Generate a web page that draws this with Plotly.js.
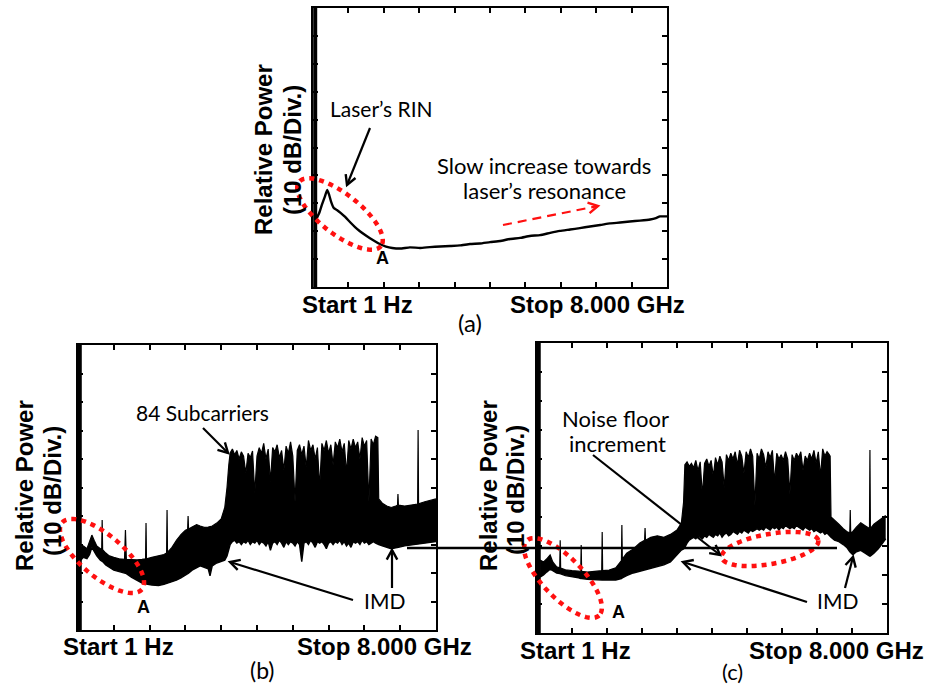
<!DOCTYPE html>
<html><head><meta charset="utf-8">
<script src="https://cdn.plot.ly/plotly-3.0.1.min.js"></script>
<style>html,body{margin:0;padding:0;background:#fff}#chart{width:931px;height:687px}</style>
</head><body><div id="chart"></div>
<script>
// ---------- DATA (frequency in GHz, relative power in dB above screen bottom; 10 dB/div) ----------
// Panel (a): laser RIN only
const aFreq = [0.08,0.14,0.20,0.27,0.32,0.36,0.41,0.47,0.54,0.63,0.72,0.84,0.95,1.06,1.22,1.38,1.51,1.65,1.79,1.97,2.19,2.42,2.64,2.87,3.10,3.32,3.55,3.77,4.00,4.23,4.45,4.68,4.90,5.13,5.36,5.58,5.81,6.03,6.26,6.49,6.71,6.94,7.16,7.39,7.62,7.75,7.84,8.00];
const aPow  = [24.5,26.5,29.4,32.5,34.8,33.3,30.5,28.3,27.6,26.5,25.2,23.2,21.5,20.0,18.2,16.6,15.4,14.5,14.0,13.8,14.2,14.0,14.3,14.5,14.7,14.9,15.4,15.6,16.1,16.5,17.2,17.6,18.3,18.6,19.4,20.1,20.6,21.1,21.7,22.2,22.8,23.1,23.5,23.8,24.2,24.7,25.3,25.3];
const aDC = 0.05;

// Panel (b): 84 subcarriers, envelope of the trace (upper / lower)
const bFreq = [0.06,0.12,0.20,0.26,0.31,0.36,0.42,0.50,0.53,0.54,0.55,0.62,0.70,0.80,0.92,1.04,1.06,1.08,1.20,1.32,1.43,1.51,1.52,1.53,1.65,1.80,1.92,1.98,1.99,2.00,2.10,2.20,2.30,2.40,2.45,2.46,2.47,2.55,2.65,2.73,2.82,2.91,2.95,3.00,3.10,3.20,3.28,3.33,3.37,3.40,
  3.45,3.50,3.55,3.60,3.65,3.70,3.75,3.80,3.85,3.90,3.95,4.00,4.05,4.10,4.15,4.20,4.25,4.30,4.35,4.40,4.45,4.50,4.55,4.60,4.65,4.70,4.75,4.80,4.85,4.90,4.95,5.00,5.05,5.10,5.15,5.20,5.25,5.30,5.35,5.40,5.45,5.50,5.55,5.60,5.65,5.70,5.75,5.80,5.85,5.90,5.95,6.00,6.05,6.10,6.15,6.20,6.25,6.30,6.35,6.40,6.45,6.50,6.55,6.60,6.65,6.70,
  6.72,6.80,6.90,7.00,7.10,7.14,7.15,7.16,7.30,7.45,7.59,7.60,7.61,7.75,7.90,8.00];
const bUpper = [29.0,29.5,28.5,31.0,33.3,31.5,29.5,28.5,28.5,38.6,28.2,27.0,26.0,25.5,25.0,24.8,35.1,24.8,24.6,24.6,24.8,25.0,37.5,25.0,25.5,26.0,26.5,27.0,42.1,27.2,29.0,31.5,33.5,35.0,35.3,40.0,35.4,36.1,37.0,36.5,36.0,36.1,36.3,36.5,37.5,39.0,43.0,50.0,58.0,62.1,
  63.5,61.5,63.0,60.0,62.5,61.0,55.0,62.0,60.5,62.8,48.0,61.0,64.0,62.0,65.5,60.0,63.5,52.0,64.0,62.5,65.0,60.5,63.0,56.0,64.5,62.0,66.0,61.0,45.0,63.0,65.0,61.5,64.5,57.0,66.5,63.0,65.0,60.0,64.0,50.0,65.5,63.0,66.5,62.0,65.0,58.0,66.0,64.0,67.0,62.5,65.5,55.0,66.5,63.5,67.0,64.0,66.0,60.0,67.5,64.5,66.5,45.0,67.0,65.0,68.0,67.5,
  46.0,44.5,43.5,43.0,43.5,43.8,47.7,43.8,43.5,44.0,44.2,70.2,44.3,45.0,45.5,46.0];
const bLower = [24.5,25.5,25.0,26.5,29.0,27.5,26.0,24.5,24.3,24.2,24.0,22.8,22.0,21.0,20.5,20.0,19.9,19.8,18.5,17.5,16.5,16.3,16.2,16.1,15.8,15.6,16.0,16.3,16.4,16.5,17.0,17.5,18.3,19.2,19.6,19.8,19.9,21.0,22.0,22.5,22.0,21.5,19.0,22.5,23.5,24.0,24.5,26.0,28.0,30.0,
  31.0,31.5,30.5,31.0,30.0,31.0,30.5,31.5,30.0,31.0,30.5,31.5,30.0,31.0,30.5,29.5,31.0,28.0,30.5,31.0,30.0,31.5,30.5,29.0,31.0,30.0,31.0,30.5,29.5,31.0,30.0,24.0,30.5,31.0,30.0,31.5,30.5,29.0,31.0,30.5,31.0,30.0,28.5,30.5,31.0,30.0,31.0,30.5,31.5,30.0,31.0,29.5,30.5,29.0,31.0,30.5,31.0,30.0,31.5,30.5,31.0,30.0,30.5,31.0,30.5,30.0,
  30.0,29.5,29.0,28.5,28.8,29.0,29.0,29.0,29.5,29.8,30.0,30.0,30.0,30.5,30.8,31.0];
const bDC = 0.04;

// Panel (c): 84 subcarriers, raised noise floor
const cFreq = [0.07,0.15,0.22,0.30,0.36,0.45,0.52,0.53,0.54,0.65,0.80,0.95,1.00,1.01,1.02,1.15,1.30,1.48,1.49,1.50,1.65,1.80,1.93,1.94,1.95,2.05,2.20,2.35,2.46,2.47,2.48,2.60,2.75,2.90,3.05,3.20,3.30,3.35,3.38,
  3.43,3.48,3.53,3.58,3.63,3.68,3.73,3.78,3.83,3.88,3.93,3.98,4.03,4.08,4.13,4.18,4.23,4.28,4.33,4.38,4.43,4.48,4.53,4.58,4.63,4.68,4.73,4.78,4.83,4.88,4.93,4.98,5.03,5.08,5.13,5.18,5.23,5.28,5.33,5.38,5.43,5.48,5.53,5.58,5.63,5.68,5.73,5.78,5.83,5.88,5.93,5.98,6.03,6.08,6.13,6.18,6.23,6.28,6.33,6.38,6.43,6.48,6.53,6.58,6.63,6.68,6.70,
  6.72,6.80,6.90,7.00,7.08,7.15,7.16,7.17,7.22,7.30,7.40,7.50,7.58,7.60,7.61,7.62,7.70,7.80,7.90,7.97];
const cUpper = [25.2,24.5,25.5,26.9,24.5,22.8,22.5,32.0,22.4,21.8,21.5,21.2,21.3,30.3,21.3,21.0,21.2,21.5,34.8,21.5,21.7,22.5,25.0,37.2,25.5,27.5,29.0,31.0,32.0,36.2,32.0,33.0,33.5,33.0,34.0,35.5,37.9,45.0,58.0,
  59.0,57.5,58.5,57.0,59.5,56.0,59.0,47.5,58.5,60.0,57.5,59.5,54.0,60.5,58.0,61.0,59.0,50.0,61.5,59.5,62.0,60.0,62.5,58.0,63.0,61.0,55.0,62.5,60.5,63.5,61.0,44.0,62.0,60.0,63.5,61.5,57.0,62.5,60.5,63.0,52.0,62.0,60.0,61.5,59.5,62.5,60.0,48.0,61.5,59.5,62.0,60.5,62.5,56.0,61.0,59.5,62.0,60.0,63.0,58.5,62.5,54.0,63.5,61.0,62.5,61.5,61.0,
  40.0,39.0,37.5,36.0,35.0,34.5,42.4,34.5,35.0,36.5,38.0,37.0,36.0,36.0,63.1,36.0,37.5,38.5,39.5,40.5];
const cLower = [19.3,20.0,21.0,22.0,21.5,20.7,20.5,20.5,20.4,19.8,19.5,19.0,18.8,18.8,18.8,18.5,18.3,18.3,18.3,18.3,18.2,18.3,18.8,19.0,19.0,19.8,20.7,21.3,21.7,21.7,21.8,22.3,22.8,23.5,24.5,27.0,28.6,29.0,29.5,
  31.0,32.0,32.5,33.0,32.5,33.5,33.0,32.5,33.5,33.0,34.0,33.5,33.0,34.0,33.5,34.5,33.0,34.0,34.5,33.5,34.0,35.0,34.5,34.0,35.0,34.5,35.5,35.0,34.5,35.5,35.0,35.5,36.0,35.5,36.0,35.5,36.5,36.0,35.5,36.5,36.0,36.5,35.5,36.5,36.0,37.0,36.5,36.0,36.5,36.0,37.0,36.5,36.0,35.5,36.5,36.0,35.5,36.0,35.0,35.5,35.0,34.5,35.0,34.0,34.5,33.5,33.0,
  33.0,32.0,31.5,30.5,29.5,28.0,27.8,27.6,27.0,28.0,28.5,27.5,26.5,26.5,26.5,26.5,27.5,29.0,31.0,32.5];
const cDC = 0.04;

// ---------- LAYOUT HELPERS ----------
const W = 931, H = 687;
const px = x => x / W, py = y => 1 - y / H;
const LBL = 'Arial, "Liberation Sans", sans-serif';
const TXT = 'Lato, "Open Sans", sans-serif';

function xa(l, r) { return {domain:[px(l), px(r)], range:[0,8], dtick:0.8, tick0:0, showgrid:false, zeroline:false, showticklabels:false,
  ticks:'inside', ticklen:5, tickwidth:2, tickcolor:'#000', showline:true, linecolor:'#000', linewidth:2, mirror:'ticks', fixedrange:true}; }
function ya(t, b) { return {domain:[py(b), py(t)], range:[0,100], dtick:10, tick0:0, showgrid:false, zeroline:false, showticklabels:false,
  ticks:'inside', ticklen:5, tickwidth:2, tickcolor:'#000', showline:true, linecolor:'#000', linewidth:2, mirror:'ticks', fixedrange:true}; }

const traces = [];
function dcLine(x, xr, yr) { traces.push({x:[x,x], y:[0,100], xaxis:xr, yaxis:yr, mode:'lines', line:{color:'#000', width:4}, hoverinfo:'skip', cliponaxis:false}); }
function band(f, lo, hi, xr, yr) {
  traces.push({x:f, y:lo, xaxis:xr, yaxis:yr, mode:'lines', line:{color:'#000', width:1.4}, hoverinfo:'skip'});
  traces.push({x:f, y:hi, xaxis:xr, yaxis:yr, mode:'lines', line:{color:'#000', width:1.2}, fill:'tonexty', fillcolor:'#000', hoverinfo:'skip'});
}
dcLine(aDC, 'x', 'y');
traces.push({x:aFreq, y:aPow, xaxis:'x', yaxis:'y', mode:'lines', line:{color:'#000', width:2.4, shape:'spline', smoothing:0.4}, hoverinfo:'skip'});
dcLine(bDC, 'x2', 'y2');
band(bFreq, bLower, bUpper, 'x2', 'y2');
dcLine(cDC, 'x3', 'y3');
band(cFreq, cLower, cUpper, 'x3', 'y3');

// ---------- SHAPES ----------
const shapes = [];
function pathOf(pts, close) { return pts.map((p,i)=>(i?'L':'M')+px(p[0]).toFixed(5)+','+py(p[1]).toFixed(5)).join('') + (close?'Z':''); }
function ellipse(cx, cy, a, b, deg) {
  const t = deg*Math.PI/180, pts = [];
  for (let i=0;i<=90;i++){ const th=i/90*2*Math.PI;
    pts.push([cx + a*Math.cos(th)*Math.cos(t) - b*Math.sin(th)*Math.sin(t), cy + a*Math.cos(th)*Math.sin(t) + b*Math.sin(th)*Math.cos(t)]); }
  shapes.push({type:'path', xref:'paper', yref:'paper', path:pathOf(pts, true), line:{color:'#ff1010', width:4.5, dash:'5px,5px'}});
}
function arrow(x1, y1, x2, y2, color, dash) {
  shapes.push({type:'line', xref:'paper', yref:'paper', x0:px(x1), y0:py(y1), x1:px(x2), y1:py(y2), line:{color:color, width:2.2, dash:dash||'solid'}});
  const ang = Math.atan2(y2-y1, x2-x1), L = 11, s = 0.5;
  const p1 = [x2 - L*Math.cos(ang - s), y2 - L*Math.sin(ang - s)];
  const p2 = [x2 - L*Math.cos(ang + s), y2 - L*Math.sin(ang + s)];
  shapes.push({type:'path', xref:'paper', yref:'paper', path:pathOf([p1,[x2,y2],p2], false), line:{color:color, width:2.4}});
}
ellipse(340, 214, 52, 20, 38);
ellipse(102, 556, 52, 21, 40);
ellipse(563, 578, 52, 20, 46);
ellipse(770, 549, 49, 15, -10);
arrow(370, 128, 347, 185, '#000');
arrow(503, 225, 598, 206, '#ff1010', '9px,6px');
arrow(203, 428, 228, 453, '#000');
arrow(353, 600, 230, 562, '#000');
arrow(392, 588, 392, 550, '#000');
arrow(593, 455, 720, 555, '#000');
arrow(807, 602, 683, 562, '#000');
arrow(845, 588, 853, 557, '#000');
shapes.push({type:'line', xref:'paper', yref:'paper', x0:px(407), y0:py(548), x1:px(837), y1:py(548), line:{color:'#000', width:2.5}});

// ---------- TEXT ----------
const ann = [];
function t(txt, x, y, size, family, angle) {
  ann.push({text:txt, x:px(x), y:py(y), xref:'paper', yref:'paper', xanchor:'center', yanchor:'middle', showarrow:false,
    textangle:angle||0, font:{family:family, size:size, color:'#000'}});
}
// panel a
t('<b>Relative Power</b>', 263, 150, 24, LBL, -90);
t('<b>(10 dB/Div.)</b>', 292, 150, 24, LBL, -90);
t('<b>Start 1 Hz</b>', 357, 304, 24, LBL);
t('<b>Stop 8.000 GHz</b>', 597, 304, 24, LBL);
t('(a)', 470, 323, 24, TXT);
t('Laser’s RIN', 381, 109, 21, TXT);
t('Slow increase towards', 544, 165, 22, TXT);
t('laser’s resonance', 544, 191, 22, TXT);
t('<b>A</b>', 382, 258, 18, LBL);
// panel b
t('<b>Relative Power</b>', 24, 486, 24, LBL, -90);
t('<b>(10 dB/Div.)</b>', 52, 491, 24, LBL, -90);
t('<b>Start 1 Hz</b>', 118, 646, 24, LBL);
t('<b>Stop 8.000 GHz</b>', 384, 646, 24, LBL);
t('(b)', 262, 670, 23, TXT);
t('84 Subcarriers', 202, 412, 21, TXT);
t('IMD', 384, 600, 21, TXT);
t('<b>A</b>', 143, 607, 18, LBL);
// panel c
t('<b>Relative Power</b>', 488, 486, 24, LBL, -90);
t('<b>(10 dB/Div.)</b>', 515, 490, 24, LBL, -90);
t('<b>Start 1 Hz</b>', 575, 650, 24, LBL);
t('<b>Stop 8.000 GHz</b>', 836, 650, 24, LBL);
t('(c)', 732, 671, 22, TXT);
t('Noise floor', 615, 418, 22, TXT);
t('increment', 617, 443, 22, TXT);
t('IMD', 837, 600, 21, TXT);
t('<b>A</b>', 618, 612, 18, LBL);

const layout = {
  width:W, height:H, margin:{l:0, r:0, t:0, b:0}, paper_bgcolor:'#fff', plot_bgcolor:'#fff', showlegend:false,
  xaxis:Object.assign(xa(313, 667), {anchor:'y'}), yaxis:Object.assign(ya(8, 287), {anchor:'x'}),
  xaxis2:Object.assign(xa(78, 436), {anchor:'y2'}), yaxis2:Object.assign(ya(345, 630), {anchor:'x2'}),
  xaxis3:Object.assign(xa(537, 887), {anchor:'y3'}), yaxis3:Object.assign(ya(343, 633), {anchor:'x3'}),
  shapes:shapes, annotations:ann
};
Plotly.newPlot('chart', traces, layout, {staticPlot:true, displayModeBar:false});
</script></body></html>
